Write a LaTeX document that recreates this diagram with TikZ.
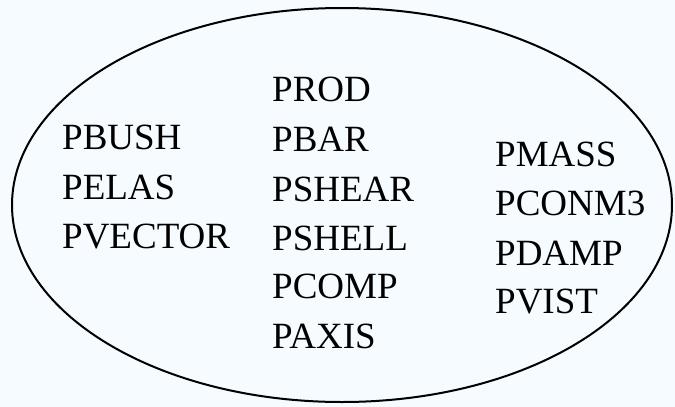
\documentclass[tikz,border=0pt]{standalone}
\usepackage{fontspec}
\setmainfont{Liberation Serif}
\definecolor{bgblue}{RGB}{245,251,255}
\begin{document}
\begin{tikzpicture}[x=1pt,y=-1pt,
  lbl/.style={anchor=base west,inner sep=0pt,font=\fontsize{37}{44}\selectfont,text=black}]
\fill[bgblue] (0,0) rectangle (675,407);
\useasboundingbox (0,0) rectangle (675,407);
\draw[line width=2pt] (342,205) ellipse [x radius=330, y radius=197];
\node[lbl] (pbush) at (62,149.5) {PBUSH};
\node[lbl] (pelas) at (62,199) {PELAS};
\node[lbl] (pvector) at (62,248) {PVECTOR};
\node[lbl] (prod) at (272,101.7) {PROD};
\node[lbl] (pbar) at (272,151.7) {PBAR};
\node[lbl] (pshear) at (272,201) {PSHEAR};
\node[lbl] (pshell) at (272,250) {PSHELL};
\node[lbl] (pcomp) at (272,298) {PCOMP};
\node[lbl] (paxis) at (272,348) {PAXIS};
\node[lbl] (pmass) at (495,166) {PMASS};
\node[lbl] (pconm) at (495,215) {PCONM3};
\node[lbl] (pdamp) at (495,265) {PDAMP};
\node[lbl] (pvist) at (495,313) {PVIST};
\end{tikzpicture}
\end{document}
